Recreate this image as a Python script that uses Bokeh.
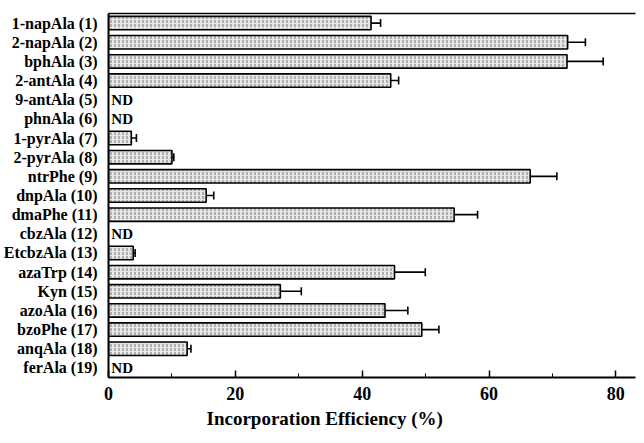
from bokeh.plotting import figure
from bokeh.models import (ColumnDataSource, FactorRange, Range1d, FixedTicker,
                          Whisker, Title, LinearAxis)
from bokeh.embed import file_html
from bokeh.resources import INLINE
from bokeh.core.properties import value

categories = ["1-napAla (1)", "2-napAla (2)", "bphAla (3)", "2-antAla (4)",
              "9-antAla (5)", "phnAla (6)", "1-pyrAla (7)", "2-pyrAla (8)",
              "ntrPhe (9)", "dnpAla (10)", "dmaPhe (11)", "cbzAla (12)",
              "EtcbzAla (13)", "azaTrp (14)", "Kyn (15)", "azoAla (16)",
              "bzoPhe (17)", "anqAla (18)", "ferAla (19)"]
efficiency = [41.4, 72.4, 72.3, 44.5, None, None, 3.6, 10.0, 66.5, 15.4,
              54.5, None, 3.9, 45.1, 27.1, 43.6, 49.4, 12.4, None]
errors = [1.5, 2.8, 5.7, 1.25, None, None, 0.8, 0.3, 4.2, 1.2,
          3.7, None, 0.3, 4.85, 3.3, 3.6, 2.7, 0.6, None]
x_ticks = [0, 20, 40, 60, 80]
x_minor = [10, 30, 50, 70]
nd_label = "ND"
x_title = "Incorporation Efficiency (%)"

FONT = "Liberation Serif"

meas = [(c, v, e) for c, v, e in zip(categories, efficiency, errors) if v is not None]
src = ColumnDataSource(dict(
    cat=[m[0] for m in meas],
    val=[m[1] for m in meas],
    lo=[m[1] - m[2] for m in meas],
    hi=[m[1] + m[2] for m in meas],
))
nd = [c for c, v in zip(categories, efficiency) if v is None]
nd_src = ColumnDataSource(dict(cat=nd, x=[0.45] * len(nd), t=[nd_label] * len(nd)))

p = figure(width=636, height=435, output_backend="svg", toolbar_location=None,
           y_range=FactorRange(*list(reversed(categories)), range_padding=0),
           x_range=Range1d(0, 83.1),
           min_border_left=105, min_border_top=13, min_border_bottom=58,
           min_border_right=1)

p.hbar(y="cat", left=0, right="val", height=0.7, source=src,
       fill_color="#e6e6e6", line_color="black", line_width=1.6,
       hatch_pattern=":", hatch_color="#777777", hatch_scale=4, hatch_weight=1)

wh = Whisker(base="cat", lower="lo", upper="hi", dimension="width", source=src,
             line_color="black", line_width=1.6)
wh.upper_head.size = 8
wh.lower_head.size = 8
wh.upper_head.line_width = 1.6
wh.lower_head.line_width = 1.6
p.add_layout(wh)

p.text(x="x", y="cat", text="t", source=nd_src, text_font=value(FONT),
       text_font_style="bold", text_font_size="15px", text_baseline="middle",
       text_align="left", text_color="black")

p.xgrid.visible = False
p.ygrid.visible = False
p.outline_line_color = None

xa = p.xaxis[0]
xa.ticker = FixedTicker(ticks=x_ticks, minor_ticks=x_minor)
xa.major_tick_in = 7
xa.major_tick_out = 0
xa.minor_tick_in = 4
xa.minor_tick_out = 0
xa.axis_line_width = 2
xa.major_tick_line_width = 1.5
xa.major_label_text_font = FONT
xa.major_label_text_font_style = "bold"
xa.major_label_text_font_size = "18px"
xa.major_label_standoff = 9
xa.major_label_text_color = "black"

ya = p.yaxis[0]
ya.major_tick_line_color = None
ya.minor_tick_line_color = None
ya.axis_line_width = 2
ya.major_label_text_font = FONT
ya.major_label_text_font_style = "bold"
ya.major_label_text_font_size = "16px"
ya.major_label_standoff = 5
ya.major_label_text_color = "black"

top = LinearAxis(ticker=FixedTicker(ticks=[]), major_label_text_font_size="0px",
                 axis_line_width=1.5, major_tick_line_color=None,
                 minor_tick_line_color=None)
p.add_layout(top, "above")

t = Title(text=x_title, align="left", offset=98, text_font=FONT,
          text_font_style="bold", text_font_size="19px", text_color="black",
          standoff=7)
p.add_layout(t, "below")

open("out.html", "w").write(file_html(p, INLINE))
